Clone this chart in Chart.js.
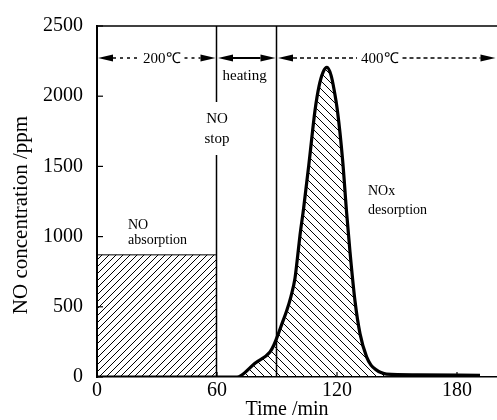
<!DOCTYPE html>
<html><head><meta charset="utf-8">
<script src="https://cdn.jsdelivr.net/npm/chart.js@4"></script>
<style>html,body{margin:0;padding:0;background:#fff;} canvas{display:block;}</style>
</head><body>
<canvas id="c" width="497" height="420"></canvas>
<script>
// ---- data ----
const timeMin = [0,70,72,79,86.5,88.5,90.7,92.5,94.8,97,99,100,101.5,103.3,106.2,109,111,113,115,117,118.5,120.2,122.8,124.8,126.5,129,131.5,134.8,137,139.8,142,144.8,160,191.5];
const noxPpm  = [0,0,10,98,178,230,309,380,470,575,704,820,1010,1200,1547,1898,2070,2170,2205,2150,2050,1898,1547,1173,892,541,309,143,85,49,32,21,16,12];
const absorptionTime = [0,60];
const absorptionPpm  = [870,870];
const xTickValues = [0,60,120,180];
const yTickValues = [0,500,1000,1500,2000,2500];
const eventTimes = [60,90];
const phaseStart = [0,60,90];
const phaseEnd   = [60,90,200];
const phaseLabels = ['200℃','','400℃'];
const noteTexts = [['NO','absorption'],['NO','stop'],['heating'],['NOx','desorption']];
const xTitle = 'Time /min';
const yTitle = 'NO concentration /ppm';

// ---- styling ----
const SERIF = '"Liberation Serif","Times New Roman",serif';
const cv = document.getElementById('c');
const ctx0 = cv.getContext('2d');
function hatch(dir, s){
  const c = document.createElement('canvas'); c.width = s; c.height = s;
  const g = c.getContext('2d');
  g.strokeStyle = '#000'; g.lineWidth = 1;
  g.beginPath();
  if (dir === '/') {
    g.moveTo(-1, s+1); g.lineTo(s+1, -1);
    g.moveTo(-1, 1); g.lineTo(1, -1);
    g.moveTo(s-1, s+1); g.lineTo(s+1, s-1);
  } else {
    g.moveTo(-1, -1); g.lineTo(s+1, s+1);
    g.moveTo(s-1, -1); g.lineTo(s+1, 1);
    g.moveTo(-1, s-1); g.lineTo(1, s+1);
  }
  g.stroke();
  return ctx0.createPattern(c, 'repeat');
}
const hatchSlash = hatch('/', 7);
const hatchBack = hatch('\\', 8);

function seg(ctx, x1, y1, x2, y2){ ctx.beginPath(); ctx.moveTo(x1,y1); ctx.lineTo(x2,y2); ctx.stroke(); }
function head(ctx, tip, y, dir){ // dir -1 = points left, +1 = points right
  ctx.beginPath();
  ctx.moveTo(tip, y);
  ctx.lineTo(tip - dir*15, y - 3.5);
  ctx.lineTo(tip - dir*15, y + 3.5);
  ctx.closePath(); ctx.fill();
}

const deco = {
  id: 'deco',
  afterDatasetsDraw(chart){
    const {ctx, chartArea: a, scales: {x: xs, y: ys}} = chart;
    ctx.save();
    ctx.strokeStyle = '#000'; ctx.fillStyle = '#000';
    // top frame line
    ctx.lineWidth = 1.5; seg(ctx, a.left, a.top, a.right, a.top);
    // inward ticks
    ctx.lineWidth = 1.2;
    yTickValues.forEach(v => { const y = ys.getPixelForValue(v); seg(ctx, a.left, y, a.left + 6, y); });
    xTickValues.forEach(v => { const x = xs.getPixelForValue(v); seg(ctx, x, a.bottom, x, a.bottom - 5); });
    // event lines
    ctx.lineWidth = 1.5;
    eventTimes.forEach((t, i) => {
      const x = xs.getPixelForValue(t) - 0.5;
      if (i === 0) { seg(ctx, x, a.top, x, a.top + 76); seg(ctx, x, a.top + 129, x, a.bottom); }
      else seg(ctx, x, a.top, x, a.bottom);
    });
    // phase arrows
    const ay = a.top + 32;
    const labelShift = [5, 0, -7];
    const dashes = [[3,4], [], [4,3]];
    ctx.font = '15px ' + SERIF; ctx.textAlign = 'center'; ctx.textBaseline = 'middle';
    phaseLabels.forEach((lab, i) => {
      const x1 = Math.max(xs.getPixelForValue(phaseStart[i]), a.left) + 1;
      const x2 = Math.min(xs.getPixelForValue(phaseEnd[i]), a.right) - 1.5;
      head(ctx, x1, ay, -1); head(ctx, x2, ay, 1);
      ctx.setLineDash(dashes[i]);
      ctx.lineWidth = i === 1 ? 2 : 1.3;
      const l1 = x1 + 15, l2 = x2 - 15;
      if (lab) {
        const cx = (x1 + x2) / 2 + labelShift[i];
        const w = ctx.measureText(lab).width / 2 + 4;
        seg(ctx, l1, ay, cx - w, ay); seg(ctx, cx + w, ay, l2, ay);
        ctx.setLineDash([]);
        ctx.fillText(lab, cx, ay + 1);
      } else {
        seg(ctx, l1, ay, l2, ay);
      }
      ctx.setLineDash([]);
    });
    // notes
    const notePos = [
      {t: 15.5, y: [1081, 976], align: 'left', size: 14},
      {t: 60, y: [1840, 1695], align: 'center', size: 15},
      {t: 73.8, y: [2142], align: 'center', size: 15},
      {t: 135.5, y: [1320, 1190], align: 'left', size: 14}
    ];
    noteTexts.forEach((lines, i) => {
      const p = notePos[i];
      ctx.font = p.size + 'px ' + SERIF; ctx.textAlign = p.align; ctx.textBaseline = 'middle';
      lines.forEach((s, j) => ctx.fillText(s, xs.getPixelForValue(p.t), ys.getPixelForValue(p.y[j])));
    });
    ctx.restore();
  },
  afterDraw(chart){
    const {ctx} = chart;
    ctx.save();
    ctx.fillStyle = '#000'; ctx.textAlign = 'center'; ctx.textBaseline = 'middle';
    ctx.font = '20px ' + SERIF;
    ctx.fillText(xTitle, 287, 410);
    ctx.translate(21, 215); ctx.rotate(-Math.PI / 2);
    ctx.font = '21px ' + SERIF;
    ctx.fillText(yTitle, 0, 0);
    ctx.restore();
  }
};

new Chart(cv, {
  type: 'line',
  data: {
    datasets: [
      {data: absorptionTime.map((t, i) => ({x: t, y: absorptionPpm[i]})), borderColor: '#000', borderWidth: 1,
       backgroundColor: hatchSlash, fill: 'origin', pointRadius: 0, tension: 0},
      {data: timeMin.map((t, i) => ({x: t, y: noxPpm[i]})), borderColor: '#000', borderWidth: 3.2,
       backgroundColor: hatchBack, fill: 'origin', pointRadius: 0, cubicInterpolationMode: 'monotone'}
    ]
  },
  options: {
    responsive: false, animation: false, events: [],
    layout: {padding: {top: 21, right: 0, bottom: 0, left: 0}},
    plugins: {legend: {display: false}, tooltip: {enabled: false}},
    scales: {
      x: {type: 'linear', min: 0, max: 200,
          afterBuildTicks: s => { s.ticks = xTickValues.map(v => ({value: v})); },
          afterFit: s => { s.height = 43; },
          grid: {drawOnChartArea: false, drawTicks: false},
          border: {display: true, color: '#000', width: 1.5},
          ticks: {color: '#000', font: {family: SERIF, size: 20}, padding: 2, maxRotation: 0, autoSkip: false,
                  callback: v => String(v)}},
      y: {type: 'linear', min: 0, max: 2500,
          afterBuildTicks: s => { s.ticks = yTickValues.map(v => ({value: v})); },
          afterFit: s => { s.width = 97; },
          grid: {drawOnChartArea: false, drawTicks: false},
          border: {display: true, color: '#000', width: 2},
          ticks: {color: '#000', font: {family: SERIF, size: 20}, padding: 14, callback: v => String(v)}}
    }
  },
  plugins: [deco]
});
</script>
</body></html>
